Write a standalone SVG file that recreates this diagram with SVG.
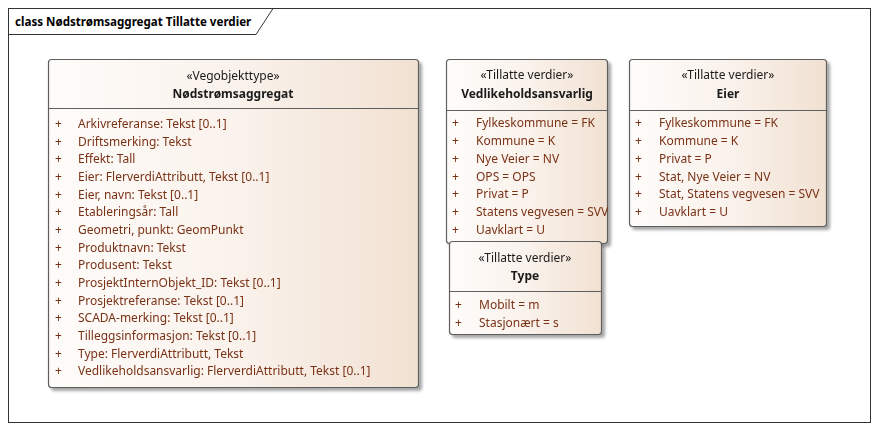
<svg xmlns="http://www.w3.org/2000/svg" width="879" height="431" viewBox="0 0 879 431">
<defs>
<linearGradient id="g" x1="0" y1="0" x2="1" y2="0">
<stop offset="0" stop-color="#fefcfa"/>
<stop offset="0.5" stop-color="#faf2ec"/>
<stop offset="1" stop-color="#f1e1d2"/>
</linearGradient>
<filter id="sh" x="-5%" y="-5%" width="115%" height="115%">
<feOffset dx="3" dy="3" in="SourceAlpha"/>
<feGaussianBlur stdDeviation="1.5"/>
<feComponentTransfer><feFuncA type="linear" slope="0.35"/></feComponentTransfer>
<feMerge><feMergeNode/><feMergeNode in="SourceGraphic"/></feMerge>
</filter>
</defs>
<style>
text{font-family:"Noto Sans","Open Sans","Liberation Sans",sans-serif;font-size:12px}
.box{fill:url(#g);stroke:#5f5f5f;stroke-width:1.2}
.div{stroke:#5f5f5f;stroke-width:1.2}
.st{fill:#1a1a1a;text-anchor:middle}
.nm{fill:#1a1a1a;text-anchor:middle;font-weight:bold}
.at{fill:#7a3216}
.ttl{font-weight:bold;fill:#000;font-size:11.6px}
</style>
<rect width="879" height="431" fill="#fff"/>
<g id="frame">
<rect x="8.5" y="8.5" width="862" height="414" fill="none" stroke="#333" stroke-width="1"/>
<path d="M8.5 34.5 H256 L273 8.5" fill="none" stroke="#333" stroke-width="1"/>
<text class="ttl" x="15" y="26">class Nødstrømsaggregat Tillatte verdier</text>
</g>
<g id="connectors"></g>
<g id="node-nodstromsaggregat" filter="url(#sh)">
<rect class="box" x="48.5" y="59.5" width="370" height="328" rx="3"/>
<line class="div" x1="48.5" y1="108.5" x2="418.5" y2="108.5"/>
<text class="st" x="233" y="80">«Vegobjekttype»</text>
<text class="nm" x="233" y="98">Nødstrømsaggregat</text>
<g class="at">
<text x="55" y="128">+</text><text x="78" y="128">Arkivreferanse: Tekst [0..1]</text>
<text x="55" y="146">+</text><text x="78" y="146">Driftsmerking: Tekst</text>
<text x="55" y="163">+</text><text x="78" y="163">Effekt: Tall</text>
<text x="55" y="181">+</text><text x="78" y="181">Eier: FlerverdiAttributt, Tekst [0..1]</text>
<text x="55" y="199">+</text><text x="78" y="199">Eier, navn: Tekst [0..1]</text>
<text x="55" y="216">+</text><text x="78" y="216">Etableringsår: Tall</text>
<text x="55" y="234">+</text><text x="78" y="234">Geometri, punkt: GeomPunkt</text>
<text x="55" y="252">+</text><text x="78" y="252">Produktnavn: Tekst</text>
<text x="55" y="269">+</text><text x="78" y="269">Produsent: Tekst</text>
<text x="55" y="287">+</text><text x="78" y="287">ProsjektInternObjekt_ID: Tekst [0..1]</text>
<text x="55" y="305">+</text><text x="78" y="305">Prosjektreferanse: Tekst [0..1]</text>
<text x="55" y="322">+</text><text x="78" y="322">SCADA-merking: Tekst [0..1]</text>
<text x="55" y="340">+</text><text x="78" y="340">Tilleggsinformasjon: Tekst [0..1]</text>
<text x="55" y="358">+</text><text x="78" y="358">Type: FlerverdiAttributt, Tekst</text>
<text x="55" y="375">+</text><text x="78" y="375">Vedlikeholdsansvarlig: FlerverdiAttributt, Tekst [0..1]</text>
</g>
</g>
<g id="node-vedlikeholdsansvarlig" filter="url(#sh)">
<rect class="box" x="446.5" y="59.5" width="161" height="184" rx="3"/>
<line class="div" x1="446.5" y1="110.5" x2="607.5" y2="110.5"/>
<text class="st" x="527" y="79">«Tillatte verdier»</text>
<text class="nm" x="527" y="98">Vedlikeholdsansvarlig</text>
<g class="at">
<text x="452" y="127">+</text><text x="476" y="127">Fylkeskommune = FK</text>
<text x="452" y="145">+</text><text x="476" y="145">Kommune = K</text>
<text x="452" y="163">+</text><text x="476" y="163">Nye Veier = NV</text>
<text x="452" y="181">+</text><text x="476" y="181">OPS = OPS</text>
<text x="452" y="198">+</text><text x="476" y="198">Privat = P</text>
<text x="452" y="216">+</text><text x="476" y="216">Statens vegvesen = SVV</text>
<text x="452" y="234">+</text><text x="476" y="234">Uavklart = U</text>
</g>
</g>
<g id="node-eier" filter="url(#sh)">
<rect class="box" x="629.5" y="59.5" width="197" height="167" rx="3"/>
<line class="div" x1="629.5" y1="110.5" x2="826.5" y2="110.5"/>
<text class="st" x="728" y="79">«Tillatte verdier»</text>
<text class="nm" x="728" y="98">Eier</text>
<g class="at">
<text x="635" y="127">+</text><text x="659" y="127">Fylkeskommune = FK</text>
<text x="635" y="145">+</text><text x="659" y="145">Kommune = K</text>
<text x="635" y="163">+</text><text x="659" y="163">Privat = P</text>
<text x="635" y="181">+</text><text x="659" y="181">Stat, Nye Veier = NV</text>
<text x="635" y="198">+</text><text x="659" y="198">Stat, Statens vegvesen = SVV</text>
<text x="635" y="216">+</text><text x="659" y="216">Uavklart = U</text>
</g>
</g>
<g id="node-type" filter="url(#sh)">
<rect class="box" x="449.5" y="241.5" width="152" height="93" rx="3"/>
<line class="div" x1="449.5" y1="291.5" x2="601.5" y2="291.5"/>
<text class="st" x="525" y="262">«Tillatte verdier»</text>
<text class="nm" x="525" y="280">Type</text>
<g class="at">
<text x="455" y="309">+</text><text x="479" y="309">Mobilt = m</text>
<text x="455" y="327">+</text><text x="479" y="327">Stasjonært = s</text>
</g>
</g>
</svg>
